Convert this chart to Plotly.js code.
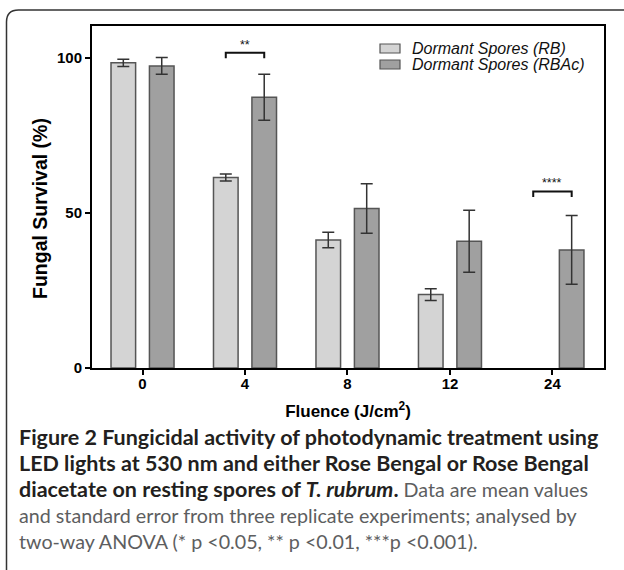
<!DOCTYPE html>
<html>
<head>
<meta charset="utf-8">
<script src="https://cdn.plot.ly/plotly-3.0.1.min.js"></script>
<style>
  html, body { margin: 0; padding: 0; background: #fff; }
  #chart { width: 624px; height: 570px; }
</style>
</head>
<body>
<div id="chart"></div>
<script>
// ---- data ----
const fluence = ['0', '4', '8', '12', '24'];
const rbMean = [98.5, 61.5, 41.3, 23.7, null];
const rbErr = [1.2, 1.1, 2.5, 1.9, null];
const rbacMean = [97.5, 87.4, 51.5, 40.9, 38.1];
const rbacErr = [2.7, 7.4, 8.0, 10.0, 11.1];
const seriesNames = ['Dormant Spores (RB)', 'Dormant Spores (RBAc)'];
const seriesColors = ['#d4d4d4', '#a0a0a0'];
const yTickVals = [0, 50, 100];
const sigGroups = ['4', '24'];
const sigLevels = [101.8, 57.0];
const sigLabels = ['**', '****'];
const xTitle = 'Fluence (J/cm<sup>2</sup>)';
const yTitle = 'Fungal Survival (%)';
const GRAY = 'color:#5d5e60;font-size:19.7px;font-weight:normal';
const captionLines = [
  '<b>Figure 2 Fungicidal activity of photodynamic treatment using</b>',
  '<b>LED lights at 530 nm and either Rose Bengal or Rose Bengal</b>',
  '<b>diacetate on resting spores of <i>T. rubrum</i>.</b><span style="' + GRAY + '"> Data are mean values</span>',
  '<span style="' + GRAY + '">and standard error from three replicate experiments; analysed by</span>',
  '<span style="' + GRAY + '">two-way ANOVA (* p &lt;0.05, ** p &lt;0.01, ***p &lt;0.001).</span>'
];

// ---- layout geometry ----
const W = 624, H = 570;
const M = { l: 92, r: 20, t: 26, b: 202 };
const PW = W - M.l - M.r, PH = H - M.t - M.b;
const px2x = px => (px - M.l) / PW;
const py2y = py => (H - M.b - py) / PH;

const halfOffset = 0.1876; // bar center offset from category center (group layout)
const AX_FONT = 'Liberation Sans, Arial, sans-serif';

const errStyle = { type: 'data', visible: true, color: '#333333', thickness: 1.5, width: 6 };

const traces = [
  {
    type: 'bar', x: fluence, y: rbMean, name: seriesNames[0],
    marker: { color: seriesColors[0], line: { color: '#555555', width: 1.5 } },
    error_y: Object.assign({ array: rbErr }, errStyle),
    showlegend: false, hoverinfo: 'skip'
  },
  {
    type: 'bar', x: fluence, y: rbacMean, name: seriesNames[1],
    marker: { color: seriesColors[1], line: { color: '#555555', width: 1.5 } },
    error_y: Object.assign({ array: rbacErr }, errStyle),
    showlegend: false, hoverinfo: 'skip'
  }
];

const shapes = [];
const annotations = [];

// significance brackets
sigGroups.forEach((g, i) => {
  const idx = fluence.indexOf(g);
  const lvl = sigLevels[i];
  const x0 = idx - halfOffset, x1 = idx + halfOffset;
  shapes.push({
    type: 'path', xref: 'x', yref: 'y',
    path: `M${x0},${lvl - 1.8} L${x0},${lvl} L${x1},${lvl} L${x1},${lvl - 1.8}`,
    line: { color: '#111111', width: 2 }
  });
  annotations.push({
    xref: 'x', yref: 'y', x: idx, y: lvl, yanchor: 'bottom', yshift: -1,
    text: sigLabels[i], showarrow: false,
    font: { family: AX_FONT, size: 12.5, color: '#111' }
  });
});

// manual legend (swatch + italic label)
const legendRowsPy = [48.5, 64.5];
seriesNames.forEach((n, i) => {
  const cy = legendRowsPy[i];
  shapes.push({
    type: 'rect', xref: 'paper', yref: 'paper',
    x0: px2x(380), x1: px2x(400), y0: py2y(cy + 4.5), y1: py2y(cy - 4.5),
    fillcolor: seriesColors[i], line: { color: '#555555', width: 1.2 }
  });
  annotations.push({
    xref: 'paper', yref: 'paper', x: px2x(410), y: py2y(cy),
    xanchor: 'left', yanchor: 'middle', showarrow: false,
    text: '<i>' + n + '</i>',
    font: { family: AX_FONT, size: 16, color: '#111' }
  });
});

// y-axis title (placed as the reference does, slightly below the plot's middle)
annotations.push({
  xref: 'paper', yref: 'paper', x: px2x(40), y: py2y(209),
  xanchor: 'center', yanchor: 'middle', textangle: -90, showarrow: false,
  text: '<b>' + yTitle + '</b>',
  font: { family: AX_FONT, size: 19.5, color: '#000' }
});

// outer rounded frame
const fx = 6.5, fy = 10, rad = 12;
shapes.push({
  type: 'path', xref: 'paper', yref: 'paper',
  path: `M${px2x(fx)},${py2y(H + 20)} L${px2x(fx)},${py2y(fy + rad)} Q${px2x(fx)},${py2y(fy)} ${px2x(fx + rad)},${py2y(fy)} L${px2x(W + 20)},${py2y(fy)}`,
  line: { color: '#333333', width: 1.5 }
});

// caption
const capY = [437, 463, 489, 515, 541];
captionLines.forEach((t, i) => {
  annotations.push({
    xref: 'paper', yref: 'paper', x: px2x(17), y: py2y(capY[i]),
    xanchor: 'left', yanchor: 'middle', align: 'left', showarrow: false,
    text: t,
    font: { family: 'Lato, sans-serif', size: 21.5, color: '#231f20' }
  });
});

const layout = {
  width: W, height: H,
  margin: M,
  paper_bgcolor: '#ffffff', plot_bgcolor: '#ffffff',
  barmode: 'group', bargap: 0.25, bargroupgap: 0.36,
  showlegend: false,
  font: { family: AX_FONT, color: '#000' },
  xaxis: {
    type: 'category', categoryorder: 'array', categoryarray: fluence,
    range: [-0.493, 4.503],
    showline: true, linecolor: '#000', linewidth: 2, mirror: true,
    ticks: 'outside', ticklen: 5, tickwidth: 2, tickcolor: '#000',
    ticklabelstandoff: -4,
    showgrid: false, zeroline: false,
    tickfont: { family: AX_FONT, size: 15, weight: 'bold', color: '#000' },
    title: { text: xTitle, standoff: 14,
      font: { family: AX_FONT, size: 17, weight: 'bold', color: '#000' } }
  },
  yaxis: {
    range: [0, 110.4],
    tickvals: yTickVals, ticktext: yTickVals.map(String),
    showline: true, linecolor: '#000', linewidth: 2, mirror: true,
    ticks: 'outside', ticklen: 5, tickwidth: 2, tickcolor: '#000',
    showgrid: false, zeroline: false,
    tickfont: { family: AX_FONT, size: 15, weight: 'bold', color: '#000' }
  },
  shapes: shapes,
  annotations: annotations
};

Plotly.newPlot('chart', traces, layout, { displayModeBar: false, staticPlot: true });
</script>
</body>
</html>
